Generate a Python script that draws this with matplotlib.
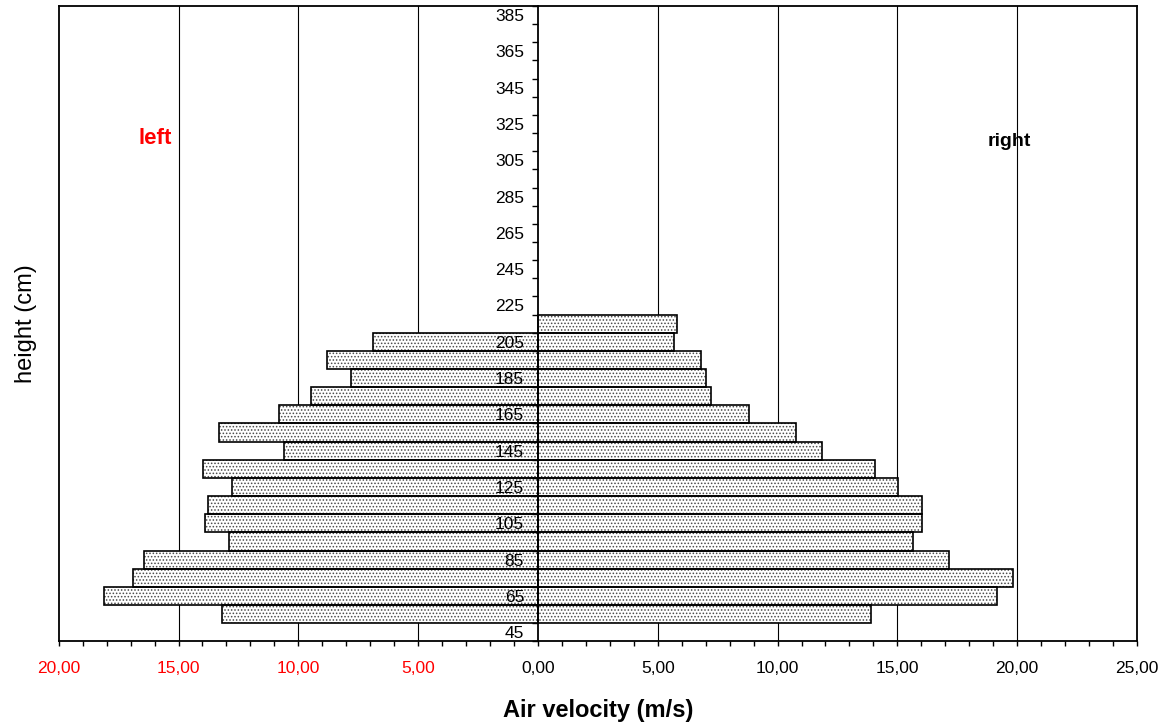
import matplotlib
matplotlib.use('Agg')
import matplotlib.pyplot as plt
from matplotlib.ticker import FixedLocator, FixedFormatter, NullFormatter

plt.rcParams['font.family'] = ['Liberation Sans', 'DejaVu Sans']
plt.rcParams['hatch.linewidth'] = 0.7

# ---- data ----
categories = [45, 55, 65, 75, 85, 95, 105, 115, 125, 135, 145, 155, 165, 175,
              185, 195, 205, 215, 225, 235, 245, 255, 265, 275, 285, 295, 305,
              315, 325, 335, 345, 355, 365, 375, 385]
right_heights = [55, 65, 75, 85, 95, 105, 115, 125, 135, 145, 155, 165, 175,
                 185, 195, 205, 215]
right_values = [13.91, 19.14, 19.81, 17.15, 15.64, 16.03, 16.03, 15.04, 14.05,
                11.86, 10.79, 8.81, 7.21, 7.02, 6.82, 5.69, 5.82]
left_heights = [55, 65, 75, 85, 95, 105, 115, 125, 135, 145, 155, 165, 175,
                185, 195, 205]
left_values = [13.19, 18.10, 16.90, 16.42, 12.91, 13.91, 13.79, 12.78, 13.99,
               10.60, 13.33, 10.79, 9.48, 7.81, 8.81, 6.89]
x_ticks = [-20, -15, -10, -5, 0, 5, 10, 15, 20, 25]
x_tick_labels = ['20,00', '15,00', '10,00', '5,00', '0,00', '5,00', '10,00',
                 '15,00', '20,00', '25,00']
y_label_cats = [45, 65, 85, 105, 125, 145, 165, 185, 205, 225, 245, 265, 285,
                305, 325, 345, 365, 385]

W, H = 1171, 724
fig = plt.figure(figsize=(W / 100, H / 100), dpi=100)
ax = fig.add_axes([58.7 / W, (H - 641.3) / H, (1137 - 58.7) / W, (641.3 - 6) / H])

ypos_r = [categories.index(h) for h in right_heights]
ypos_l = [categories.index(h) for h in left_heights]
neg_left = [-v for v in left_values]

# hatch layer + outline layer
for ys, vs in ((ypos_r, right_values), (ypos_l, neg_left)):
    ax.barh(ys, vs, height=1.0, left=0, color='white', edgecolor='#4a4a4a',
            hatch='.....', linewidth=0, zorder=1.1)
    ax.barh(ys, vs, height=1.0, left=0, facecolor='none', edgecolor='black',
            linewidth=1.2, zorder=1.2)

# grid
for gx in [-15, -10, -5, 5, 10, 15, 20]:
    ax.axvline(gx, color='black', lw=0.8, zorder=1.0)

ax.set_xlim(-20, 25)
ax.set_ylim(-0.5, len(categories) - 0.5)

# spines
for s in ['top', 'right', 'bottom']:
    ax.spines[s].set_linewidth(1.3)
ax.spines['left'].set_position(('data', 0))
ax.spines['left'].set_linewidth(1.3)
ax.plot([0, 0], [0, 1], transform=ax.transAxes, color='black', lw=1.3,
        clip_on=False, zorder=5)

# x ticks
ax.xaxis.set_major_locator(FixedLocator(x_ticks))
ax.xaxis.set_major_formatter(FixedFormatter(x_tick_labels))
ax.xaxis.set_minor_locator(FixedLocator([v for v in range(-20, 26)]))
ax.tick_params(axis='x', which='both', direction='out', length=3.5, width=1,
               pad=11, labelsize=12.5)
for lbl, v in zip(ax.get_xticklabels(), x_ticks):
    lbl.set_color('red' if v < 0 else 'black')

# y ticks: marks at category boundaries, labels at centres
bounds = [i - 0.5 for i in range(len(categories) + 1)]
ax.yaxis.set_major_locator(FixedLocator(bounds))
ax.yaxis.set_major_formatter(NullFormatter())
ax.yaxis.set_minor_locator(FixedLocator([categories.index(c) for c in y_label_cats]))
ax.yaxis.set_minor_formatter(FixedFormatter([str(c) for c in y_label_cats]))
ax.tick_params(axis='y', which='major', direction='out', length=4.5, width=1)
ax.tick_params(axis='y', which='minor', length=0, pad=10, labelsize=12.5)

ax.set_xlabel('Air velocity (m/s)', fontsize=17, fontweight='bold', labelpad=16)
fig.text(26 / W, 1 - 324 / H, 'height (cm)', rotation=90, fontsize=17,
         ha='center', va='center')

fig.text(155 / W, 1 - 139 / H, 'left', color='red', fontsize=16,
         fontweight='bold', ha='center', va='center')
fig.text(1009.5 / W, 1 - 141.5 / H, 'right', color='black', fontsize=14,
         fontweight='bold', ha='center', va='center')

fig.savefig('out.png', dpi=100)
